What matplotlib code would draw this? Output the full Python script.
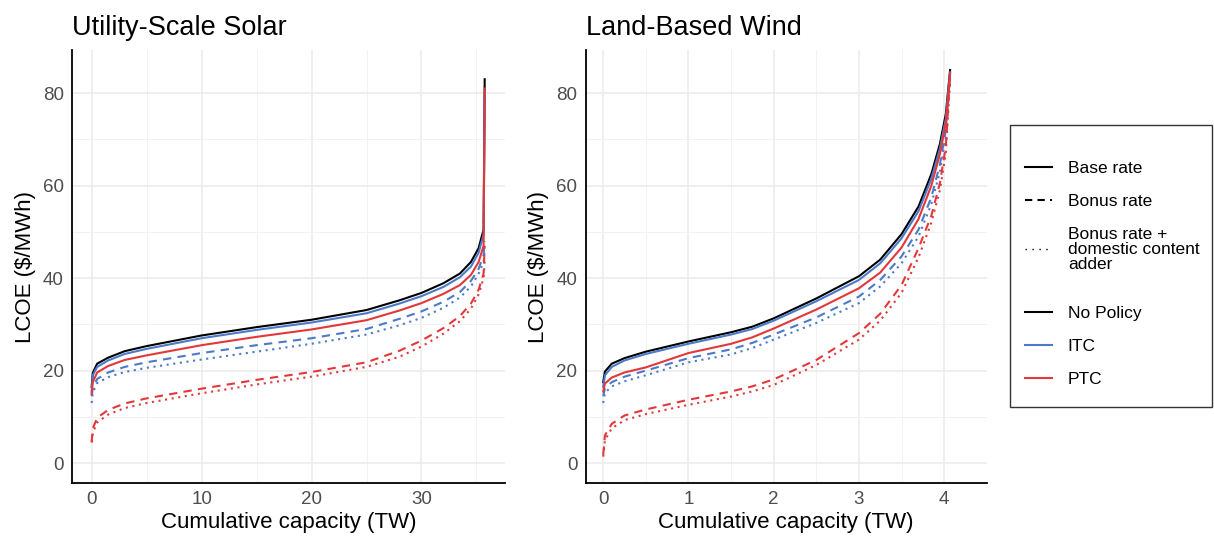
import matplotlib
matplotlib.use("Agg")
import matplotlib.pyplot as plt
from matplotlib.lines import Line2D
from matplotlib.patches import Rectangle

plt.rcParams['font.family'] = ['Liberation Sans', 'DejaVu Sans']

# ---------------- data ----------------
solar_x = [0, 0.1, 0.5, 1.5, 3, 5, 10, 15, 20, 25, 28, 30, 32, 33.5, 34.5, 35.2, 35.65, 35.75]
solar_nopolicy = [16.5, 19.5, 21.5, 22.8, 24.2, 25.3, 27.6, 29.4, 31.0, 33.1, 35.2, 36.8, 38.9, 41.0, 43.5, 46.5, 50.5, 83]
solar_itc_base = [15.5, 19.0, 20.8, 22.2, 23.6, 24.7, 27.0, 28.8, 30.4, 32.4, 34.5, 36.1, 38.1, 40.2, 42.5, 45.5, 49.5, 80]
solar_itc_bonus = [14.5, 16.3, 18.2, 19.6, 20.8, 21.8, 23.8, 25.5, 27.0, 29.0, 31.2, 32.8, 34.9, 37.0, 39.4, 42.0, 45.0, 48]
solar_itc_dca = [13.0, 15.3, 17.3, 18.6, 19.7, 20.6, 22.4, 24.1, 25.8, 27.8, 29.8, 31.4, 33.6, 35.8, 38.2, 41.0, 43.5, 46]
solar_ptc_base = [15.0, 17.5, 19.6, 21.0, 22.3, 23.3, 25.5, 27.3, 28.9, 30.9, 33.0, 34.6, 36.6, 38.5, 40.7, 43.5, 47.0, 81]
solar_ptc_bonus = [4.5, 7.5, 9.8, 11.5, 12.9, 14.0, 16.1, 18.0, 19.7, 21.8, 24.3, 26.5, 29.2, 31.8, 34.5, 37.5, 41.0, 47]
solar_ptc_dca = [4.5, 6.5, 8.8, 10.5, 11.9, 13.0, 15.1, 17.0, 18.7, 20.8, 23.0, 25.2, 28.0, 30.7, 33.4, 36.5, 40.0, 44]

wind_x = [0, 0.02, 0.1, 0.25, 0.5, 1, 1.5, 1.75, 2, 2.5, 3, 3.25, 3.5, 3.7, 3.85, 3.95, 4.02, 4.07]
wind_nopolicy = [17.5, 19.8, 21.5, 22.7, 24.1, 26.3, 28.3, 29.5, 31.3, 35.6, 40.4, 44.0, 49.5, 55.5, 62.5, 69.0, 75.5, 85]
wind_itc_base = [16.5, 19.0, 20.8, 22.2, 23.6, 25.8, 27.8, 29.0, 30.8, 35.0, 39.6, 43.2, 48.6, 54.5, 61.5, 68.0, 74.5, 84.5]
wind_itc_bonus = [14.5, 16.2, 17.5, 18.7, 20.0, 22.7, 24.6, 26.0, 27.8, 31.5, 36.0, 39.6, 44.7, 50.5, 57.5, 64.5, 72.0, 84]
wind_itc_dca = [13.0, 15.2, 16.6, 17.7, 19.0, 21.8, 23.5, 24.9, 26.7, 30.3, 34.6, 38.2, 43.2, 49.0, 56.0, 63.0, 70.5, 83]
wind_ptc_base = [15.5, 17.2, 18.5, 19.6, 20.7, 23.8, 25.8, 27.2, 29.1, 33.2, 37.8, 41.2, 46.6, 52.8, 60.0, 66.8, 73.5, 84.3]
wind_ptc_bonus = [1.8, 6.0, 8.5, 10.3, 11.6, 13.7, 15.5, 16.6, 18.1, 22.3, 28.1, 32.3, 38.5, 46.5, 53.5, 60.5, 68.5, 84]
wind_ptc_dca = [1.4, 5.0, 7.5, 9.3, 10.6, 12.6, 14.4, 15.5, 16.9, 21.2, 26.7, 30.8, 36.8, 44.5, 52.0, 59.0, 67.0, 83]

BLACK = "#000000"
BLUE = "#4a7ac8"
RED = "#e2383a"
DASH = (0, (4, 3))
DOT = (0, (1, 2.2))


def draw_panel(ax, x, series, title, xticks, xlim):
    for y, color, ls in series:
        ax.plot(x, y, color=color, linestyle=ls, lw=1.5)
    ax.set_xlim(xlim)
    ax.set_ylim(-4.3, 89.3)
    ax.set_xticks(xticks)
    ax.set_yticks([0, 20, 40, 60, 80])
    ax.set_xticks([(xticks[i] + xticks[i + 1]) / 2 for i in range(len(xticks) - 1)] +
                  [xticks[-1] + (xticks[1] - xticks[0]) / 2], minor=True)
    ax.set_yticks([10, 30, 50, 70], minor=True)
    ax.grid(which='major', color='#ebebeb', lw=1.1)
    ax.grid(which='minor', color='#f2f2f2', lw=0.7)
    ax.set_axisbelow(True)
    for s in ['top', 'right']:
        ax.spines[s].set_visible(False)
    for s in ['left', 'bottom']:
        ax.spines[s].set_linewidth(1.3)
    ax.tick_params(which='both', length=0, labelsize=13.5, labelcolor='#4d4d4d', pad=6)
    ax.set_title(title, loc='left', fontsize=19.5, pad=11)
    ax.set_xlabel("Cumulative capacity (TW)", fontsize=16, labelpad=3)
    ax.set_ylabel("LCOE ($/MWh)", fontsize=16, labelpad=5)


fig = plt.figure(figsize=(12.14, 5.39), dpi=100)
ax1 = fig.add_axes([0.0593, 0.1039, 0.3567, 0.8031])
ax2 = fig.add_axes([0.4825, 0.1039, 0.3303, 0.8031])

draw_panel(ax1, solar_x, [
    (solar_nopolicy, BLACK, '-'),
    (solar_itc_base, BLUE, '-'), (solar_itc_bonus, BLUE, DASH), (solar_itc_dca, BLUE, DOT),
    (solar_ptc_base, RED, '-'), (solar_ptc_bonus, RED, DASH), (solar_ptc_dca, RED, DOT)],
    "Utility-Scale Solar", [0, 10, 20, 30], (-1.79, 37.6))

draw_panel(ax2, wind_x, [
    (wind_nopolicy, BLACK, '-'),
    (wind_itc_base, BLUE, '-'), (wind_itc_bonus, BLUE, DASH), (wind_itc_dca, BLUE, DOT),
    (wind_ptc_base, RED, '-'), (wind_ptc_bonus, RED, DASH), (wind_ptc_dca, RED, DOT)],
    "Land-Based Wind", [0, 1, 2, 3, 4], (-0.205, 4.28))

# legend: frame + two blocks (line type, policy)
fig.add_artist(Rectangle((0.8320, 0.2449), 0.1664, 0.5232, transform=fig.transFigure,
                         fill=False, ec='#333333', lw=1.0))

leg_kw = dict(loc='upper left', fontsize=12.5, frameon=False, handlelength=1.55,
              handletextpad=0.92, labelspacing=1.02, borderpad=0, borderaxespad=0)

type_handles = [
    Line2D([], [], color=BLACK, lw=1.5, ls='-'),
    Line2D([], [], color=BLACK, lw=1.5, ls=(0, (3.5, 2.5))),
    Line2D([], [], color=BLACK, lw=1.0, ls=(0, (1, 4))),
]
type_labels = ["Base rate", "Bonus rate", "Bonus rate +\ndomestic content\nadder"]
leg1 = fig.legend(type_handles, type_labels, bbox_to_anchor=(0.8443, 0.7013), **leg_kw)
for t in leg1.get_texts():
    t.set_linespacing(1.0)

policy_handles = [
    Line2D([], [], color=BLACK, lw=1.5),
    Line2D([], [], color=BLUE, lw=1.5),
    Line2D([], [], color=RED, lw=1.5),
]
policy_labels = ["No Policy", "ITC", "PTC"]
fig.legend(policy_handles, policy_labels, bbox_to_anchor=(0.8443, 0.4322), **leg_kw)

fig.savefig("out.png", dpi=100)
